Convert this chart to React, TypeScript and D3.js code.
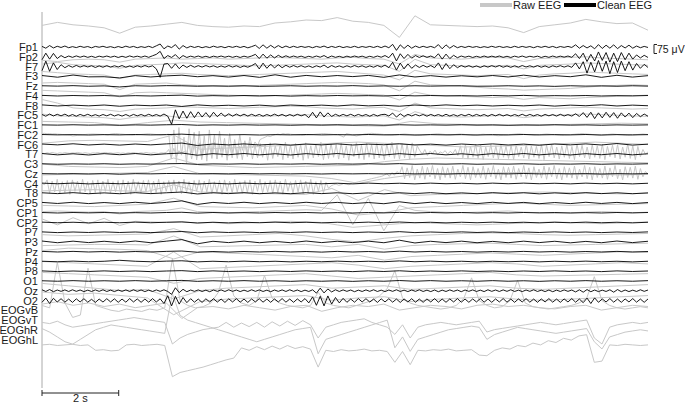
import * as d3 from "d3";

// channel montage, top to bottom
const channels = [
  "Fp1", "Fp2", "F7", "F3", "Fz", "F4", "F8", "FC5", "FC1", "FC2", "FC6",
  "T7", "C3", "Cz", "C4", "T8", "CP5", "CP1", "CP2", "P7", "P3", "Pz",
  "P4", "P8", "O1", "Oz", "O2", "EOGvB", "EOGvT", "EOGhR", "EOGhL",
];

const duration = 15.8; // seconds shown
const scaleSeconds = 2;
const scaleMicroVolts = 75;

// clean EEG (µV), evenly sampled across the window
const cleanFp1 = [5,-10,12,-8,6,-4,8,-6,3,-5,6,-3,4,-7,5,-2,6,-4,3,-6,4,-5,7,-3,5,-6,3,-4,6,-5,10,25,-15,8,-5,20,-18,12,-8,6,-4,5,-6,3,-5,7,-3,4,-6,5,-3,6,-4,5,-7,3,15,-12,18,-10,14,-8,12,-6,8,-5,6,-4,5,-3,4,-6,5,-3,8,-6,5,-4,6,-5,3,-4,6,-5,4,-3,5,-4,6,-5,8,-6,22,-28,18,-12,15,-10,8,-5,6,-4,5,-6,20,-15,18,-10,12,-6,5,-4,6,-3,4,-5,3,-4,6,-3,5,-4,3,-5,6,-4,5,-3,4,-6,5,-3,6,-4,5,-6,4,-3,5,-4,18,-10,12,-8,10,-15,20,-12,15,-10,18,-14,12,-8,15,-10,8,-6,5,-4];
const cleanFp2 = [-25,30,-20,28,-15,10,-8,6,-5,7,-4,6,-5,4,-6,5,-3,6,-4,5,-6,4,-5,7,-3,5,-4,6,-5,8,20,45,-15,10,-6,18,-15,10,-6,5,-4,6,-5,4,-6,5,-3,6,-4,5,-5,4,-6,5,-4,6,20,-15,22,-12,15,-10,12,-6,8,-5,6,-4,5,-6,4,-5,6,-4,10,-8,6,-5,4,-6,5,-4,6,-3,5,-6,4,-5,6,-4,10,-8,30,-35,25,-15,20,-12,10,-6,8,-5,6,-8,25,-20,22,-15,12,-8,6,-4,5,-6,4,-5,6,-4,5,-3,6,-5,4,-6,5,-4,6,-5,4,-3,5,-6,4,-5,6,-4,5,-3,6,-5,25,-15,30,-40,20,-35,40,-30,35,-45,30,-40,35,-25,30,-20,15,-10,12,-6];
const cleanF7 = [-35,45,-40,30,-25,15,-10,8,-6,9,-5,7,-4,6,-8,5,-6,7,-5,6,-4,8,-6,5,-7,6,-5,8,-4,6,-20,-90,20,25,-15,22,-18,12,-8,10,-6,7,-5,8,-4,6,-7,5,-6,8,-5,6,-8,5,-6,7,25,-20,28,-15,20,-12,15,-10,10,-6,8,-5,7,-6,5,-8,6,-5,12,-10,8,-6,5,-7,6,-5,8,-4,6,-7,5,-6,8,-5,12,-10,35,-30,28,-20,22,-15,12,-8,10,-6,8,-10,30,-25,25,-18,15,-10,8,-5,7,-6,5,-8,6,-5,7,-4,8,-6,5,-7,6,-5,8,-4,6,-5,7,-6,5,-8,6,-4,7,-5,6,-7,30,-20,40,-55,35,-45,50,-40,45,-60,40,-50,45,-35,40,-30,25,-15,18,-8];
const cleanF3 = [6,-8,10,-5,-4,-14,5,-6,3,9,-4,5,-7,6,-9,12,-8,7,-4,6,-3,7,-9,11,-6,5,-7,4,-5,6,-6,9,-6,5,-4,12,-9,8,-7,5];
const cleanFz = [2,-1,3,-2,1,-8,2,-1,3,2,-2,1,-1,2,-3,-1,2,-2,1,-1,3,-2,1,-2,2,-1,1,2,-2,-1,2,-2,1,-3,2,-1,1,-2,2,-1];
const cleanF4 = [3,-2,2,-1,2,-3,1,-2,2,5,-3,1,-2,2,-1,2,-3,1,-2,2,-1,1,-2,3,-1,2,-1,1,-2,2,-1,3,-2,1,-1,2,-2,1,-1,2];
const cleanF8 = [5,-4,3,-3,4,-6,3,-2,4,-8,5,-3,2,-4,3,-5,4,-2,3,-4,5,-3,2,-6,4,-3,5,-2,3,-4,2,-3,4,-5,3,-2,6,-4,3,-2];
const cleanFC5 = [6,-8,10,-6,8,-5,9,-7,6,-8,7,-5,8,-6,5,-7,6,-5,8,-6,5,-7,6,-8,7,-5,6,-6,8,-5,6,-7,10,-8,-75,45,-30,35,-25,30,-20,28,-15,22,-18,25,-12,18,-10,12,-8,10,-6,9,-7,8,-5,7,-8,6,-6,9,-5,7,-8,6,-7,8,-5,6,-20,25,-22,28,-15,20,-10,8,-6,7,-5,8,-6,7,-5,6,-8,7,-6,5,8,-6,18,-15,12,-10,8,-6,7,-5,6,-8,7,-5,6,-7,8,-6,5,-7,6,-5,8,-6,7,-5,6,-8,7,-5,8,-6,5,-7,6,-5,8,-6,7,-5,6,-8,7,-5,6,-7,8,-6,5,-7,12,-10,22,-18,25,-28,20,-22,25,-18,22,-25,20,-15,18,-20,15,-12,10,-8];
const cleanFC1 = [1,-1,2,-1,1,-2,1,-1,2,4,-2,1,-1,2,-1,1,-2,1,-1,2,-1,1,-2,2,-1,1,-1,2,-1,1,-2,1,-1,2,-1,1,-2,1,-1,1];
const cleanFC2 = [2,-1,1,-2,1,-1,2,-1,1,5,-2,1,-1,1,-2,1,-1,2,-1,1,-1,2,-1,1,-2,1,-1,1,-2,1,-1,2,-1,1,-1,2,-2,1,-1,1];
const cleanFC6 = [4,-3,6,-4,3,-5,4,-3,5,12,-8,4,-3,5,-4,3,-5,4,-3,5,-4,3,-2,6,-4,3,-5,4,-3,5,-4,3,-6,4,-3,5,-4,8,-5,3];
const cleanT7 = [6,-5,4,-6,5,-4,6,-5,4,10,-8,5,-4,6,-5,4,-6,5,-4,6,-5,4,-6,5,-4,6,-5,4,-6,5,-4,6,-5,4,-6,5,-4,6,-5,4];
const cleanC3 = [2,-2,1,-1,2,-2,1,-1,2,4,-3,1,-1,2,-2,1,-1,2,-2,1,-1,2,-1,3,-2,1,-1,2,-2,1,-1,2,-2,1,-1,2,-2,1,-1,2];
const cleanCz = [1,-1,1,-2,1,-4,1,-1,2,2,-1,1,-1,2,-1,1,-1,1,-2,1,-1,1,-1,2,-1,1,-2,1,-1,1,-1,2,-1,1,-1,1,-2,1,-1,1];
const cleanC4 = [3,-2,3,-3,2,-2,3,-2,2,6,-4,2,-3,3,-2,2,-3,3,-2,2,-3,3,-2,2,-3,3,-2,2,-3,3,-2,3,-2,2,-3,3,-2,2,-3,2];
const cleanT8 = [4,-3,5,-4,3,-4,5,-3,4,10,-6,4,-3,5,-4,3,-4,5,-3,4,-4,3,-5,4,-3,5,-4,3,-4,5,-3,4,-5,3,-4,5,-3,4,-4,3];
const cleanCP5 = [5,-4,6,-5,4,-5,6,-4,5,18,-12,5,-4,6,-5,4,-5,6,-4,5,-5,4,-6,10,-5,6,-5,4,-5,6,-4,5,-6,4,-5,6,-4,5,-5,4];
const cleanCP1 = [2,-2,2,-1,2,-2,1,-2,2,4,-3,2,-2,1,-2,2,-1,2,-2,1,-2,2,-1,3,-2,2,-1,2,-2,1,-2,2,-1,2,-2,1,-2,2,-1,2];
const cleanCP2 = [3,-2,2,-3,2,-2,3,-2,2,5,-4,2,-3,2,-2,3,-2,2,-3,2,-2,3,-2,4,-2,2,-3,2,-2,3,-2,2,-3,2,-2,3,-2,2,-3,2];
const cleanP7 = [3,-3,2,-2,3,-2,2,-3,2,6,-4,3,-2,2,-3,2,-2,3,-2,2,-3,2,-2,5,-3,2,-2,3,-2,2,-3,2,-2,3,-2,2,-3,2,-2,3];
const cleanP3 = [8,-6,7,-5,6,-5,8,-6,7,20,-15,6,-5,7,-6,5,-6,8,-5,6,-5,7,-6,15,-8,6,-5,7,-6,5,-6,7,-5,6,-7,5,-6,8,-5,6];
const cleanPz = [3,-2,3,-2,2,-3,2,-2,3,6,-4,2,-3,2,-2,3,-2,2,-3,3,-2,2,-3,5,-2,3,-2,2,-3,2,-2,3,-2,2,-3,2,-2,3,-2,2];
const cleanP4 = [2,-2,3,-2,2,10,2,-2,3,6,-3,2,-2,3,-2,2,-3,2,-2,3,-2,2,-2,5,-2,3,-2,2,-3,2,-2,2,-3,2,-2,3,-2,2,-3,2];
const cleanP8 = [3,-3,2,-2,3,-2,2,-3,2,5,-3,3,-2,2,-3,2,-2,3,-2,2,-3,3,-2,4,-3,2,-2,3,-2,2,-3,2,-2,3,-2,2,-3,3,-2,2];
const cleanO1 = [2,-2,3,-2,2,-2,3,-2,2,5,-3,2,-2,3,-2,2,-3,2,-2,2,-3,2,-2,4,-2,3,-2,2,-2,3,-2,2,-3,2,-2,3,-2,2,-2,3];
const cleanOz = [8,-6,10,-8,6,-5,7,-6,8,-5,6,-7,5,-6,7,-5,8,-6,5,-7,6,-5,7,-6,8,-5,6,-7,5,-6,7,-5,8,-6,-30,25,-15,12,-8,6,-5,7,-6,5,-8,6,-5,7,-6,8,-5,6,-7,5,-6,8,-5,7,-6,5,-8,6,-5,7,-6,8,-5,6,-7,5,-6,8,-20,22,-18,15,-10,8,-6,7,-5,6,-8,5,-6,7,-5,8,-6,5,-7,6,-5,8,-6,5,-7,6,-5,8,-6,5,-7,6,-8,5,-6,7,-5,6,-8,6,-5,7,-6,5,-7,8,-5,6,-6,7,-5,8,-6,5,-7,6,-5,8,-6,5,-7,6,-8,5,-6,7,-5,6,-10,8,-12,10,-8,6,-7,5,-6,8,-12,10,-8,6,-7,5,-6,8,-5,6];
const cleanO2 = [-15,20,-25,18,-12,15,-14,12,-16,14,-12,15,-14,10,-16,12,-13,15,-12,14,-15,12,-14,16,-12,13,-15,12,-14,16,-12,14,-25,40,-45,35,-30,25,-18,15,-14,12,-16,14,-12,15,-13,12,-16,14,-12,15,-14,12,-16,13,-12,15,-14,12,-15,13,-12,16,-14,12,-15,13,-12,16,-20,30,-40,35,-45,38,-30,25,-20,18,-15,12,-14,16,-12,15,-13,12,-16,14,-12,15,-14,12,-16,13,-12,15,-14,12,-15,13,-12,16,-14,12,-15,13,-12,16,-14,12,-15,13,-12,16,-14,12,-15,13,-12,16,-14,12,-15,13,-12,16,-14,12,-15,13,-12,16,-14,12,-15,13,-12,16,-14,12,-18,20,-25,22,-15,13,-12,16,-14,12,-15,13,-12,16,-14,12,-15,13];

// raw EEG (µV, relative to each channel's baseline)
const rawFp1 = [180,205,185,175,160,115,165,175,190,205,180,170,165,175,170,200,210,225,220,245,215,205,180,80,260,185,180,175,170,175,160,120,170,185,200,230,210,195,200,140];
const rawFp2 = [-30,-40,-25,-20,-25,-45,-20,-15,-10,-20,-15,-10,-20,-15,-10,-5,-10,-15,-20,-10,-5,-15,-20,-60,20,-10,-15,-20,-10,-5,-10,-40,-15,-10,-5,0,-10,-15,-20,-25];
const rawF7 = [20,35,15,10,5,-15,10,15,20,30,25,20,15,10,5,10,15,20,25,30,20,15,10,-40,60,15,10,5,0,5,10,-20,10,15,20,30,25,20,15,10];
const rawF3 = [40,30,20,15,10,-20,10,15,20,25,15,10,5,10,15,20,25,30,35,40,30,20,10,-30,50,20,15,10,5,10,15,-20,10,20,25,35,30,25,20,15];
const rawFz = [25,30,25,20,15,-30,15,20,25,10,5,0,-5,0,5,10,15,20,25,30,25,20,10,-40,40,10,5,0,-10,-20,-25,-35,-30,-25,-20,-10,0,5,10,5];
const rawF4 = [45,40,35,30,25,-10,25,30,25,20,15,10,5,0,-5,0,5,10,15,20,15,10,5,-35,30,5,0,-5,-10,-15,-10,-30,-15,-20,-25,-15,-10,-5,0,5];
const rawF8 = [50,20,-20,-30,-35,-50,-30,-25,-20,-10,-15,-20,-25,-20,-15,-10,-5,-10,-20,-25,-30,-20,-15,-50,20,-20,-25,-30,-35,-30,-25,-45,-30,-25,-20,-15,-20,-25,-30,-25];
const rawFC5 = [10,-5,-10,-15,-20,-35,-15,-10,-5,-20,-10,-5,0,-5,-10,-5,0,5,-5,-10,-15,-10,-5,-40,30,-5,-10,-15,-10,-5,0,-20,-5,0,5,10,5,0,-5,-10];
const rawFC1 = [30,25,20,-5,20,40,25,20,15,10,5,0,-5,-10,30,10,5,0,-5,0,5,10,15,10];
const rawFC2 = [10,12,8,10,6,8,5,4,2,0,-2,-4,-10,-8,-5,-2,0,2,4,5,6,5,4,3,2,0,-2,5,8,10,8,6,4,2,0,-2,-4,-2,0,2,4,6,8,6,4,2,0,-2,0,2,4,-200,40,-230,60,-170,-20,-240,50,-150,20,-210,30,-180,-10,-220,40,-160,0,-200,30,-140,-30,-190,10,-150,-40,-170,0,-130,-50,-150,-20,-110,-60,-90,-40,-30,-20,-10,-15,-5,0,5,0,10,5,8,4,2,0,-2,-4,-6,-4,-2,0,2,4,6,8,10,8,6,4,2,0,-2,-10,-20,10,5,0,-5,-10,-5,0,5,8,10,12,10,8,6,4,2,0,-2,-4,-2,0,2,4,6,4,2,0,-2,-4,-6,-4,-2,0,2,4,6,8,6,4,2,0,-2,0,2,4,6,4,2,0,-2,-4,-2,0,2,4,2,0,-2,-4,-6,-8,-6,-4,-2,0,2,4,6,8,6,4,2,0,-2,-4,-2,0,2,4,6,4,2,0,-2,-4,-6,-4,-2,0,2,4,6,8,10,8,6,4,2,0,-2,-4,-2,0,2,4,6,4,2,0,-2,-4,-6,-4,-2,0,2,4,6,4,2];
const rawFC6 = [10,30,35,30,25,80,-40,-30,-20,-10,0,10,20,10,0,-10,-20,-15,-10,0,10,20,10,0];
const rawT7 = [10,5,12,8,15,10,6,12,8,14,10,7,12,9,15,11,8,13,9,6,12,10,14,8,11,15,9,12,7,10,13,8,11,6,12,9,14,10,7,12,9,15,11,8,13,9,6,12,10,14,40,-30,50,-20,30,0,25,5,90,-40,80,-30,95,-45,70,-20,85,-35,100,-40,75,-25,90,-50,80,-30,95,-35,70,-45,85,-20,100,-40,75,-30,90,-25,80,-50,95,-35,70,-20,85,-45,100,-30,75,-40,90,-25,80,-50,95,-35,70,-30,85,-20,100,-45,75,-35,90,-25,80,-40,95,-30,70,-50,85,-20,100,-35,75,-45,90,-25,80,-40,95,-30,70,-45,85,-20,100,-35,75,-40,90,-30,80,-45,95,-25,70,30,0,40,-10,25,5,35,-5,20,10,30,0,25,5,40,-10,70,-30,80,-40,65,-25,85,-35,75,-45,60,-20,80,-30,70,-40,85,-25,65,-35,75,-45,80,-20,60,-30,85,-40,70,-25,65,-35,80,-45,75,-20,85,-30,60,-40,70,-25,80,-35,65,-45,85,-20,75,-30,60,-40,80,-25,70,-35,85,-45,65,-20,75,-30,80,-40,60,-25,85,-35,70,-45,65,-20,40,0,20];
const rawC3 = [0,-20,-25,-30,-20,50,-10,-20,-30,-25,-20,-15,-10,20,40,50,45,40,35,30,25,20,15,10];
const rawCz = [-10,-5,0,5,10,60,0,-5,-10,-15,-20,-40,-80,-40,-10,-5,0,5,10,5,0,-5,-10,-5];
const rawC4 = [0,-10,30,-80,20,-70,35,-85,15,-75,25,-90,30,-65,20,-80,35,-70,15,-85,25,-75,30,-90,20,-65,35,-80,15,-70,25,-85,30,-75,20,-90,35,-65,15,-80,25,-70,30,-85,20,-75,35,-90,15,-65,25,-80,30,-70,20,-85,35,-75,15,-90,25,-65,30,-80,20,-70,35,-85,15,-75,25,-90,30,-65,20,-80,35,-70,15,-85,25,-75,30,-90,20,-65,35,-80,15,-70,25,-85,30,-75,20,-90,35,-65,15,-80,25,-70,30,-85,20,-75,35,-90,15,-65,25,-80,10,-40,-20,-10,-5,-15,-10,0,-5,-10,0,5,10,15,20,25,30,35,40,45,50,55,60,70,80,60,90,70,100,80,140,40,130,50,150,30,120,45,145,35,135,55,150,40,125,30,140,50,130,45,145,35,120,55,150,40,135,30,140,50,125,45,145,35,130,55,150,40,120,30,140,50,135,45,145,35,125,55,150,40,130,30,140,50,120,45,145,35,135,55,150,40,125,30,140,50,130,45,145,35,120,55,150,40,135,30,140,50,125,45,145,35,130,55,150,40,120,30,140,50,135,45,145,35,125,55,100,80];
const rawT8 = [20,25,30,20,15,70,10,5,0,-5,-10,40,-60,30,-20,-10,-5,0,5,10,5,0,-5,0];
const rawCP5 = [-20,-25,-30,-20,-10,40,-30,-35,-40,-30,-20,-50,-100,-80,-40,-30,-20,-10,0,-10,-20,-15,-10,-5];
const rawCP1 = [10,15,10,5,10,-10,10,15,20,40,10,5,0,5,10,15,20,25,20,150,-100,120,-150,60,20,10,5,0,5,10,15,5,0,-5,0,5,10,5,0,5];
const rawCP2 = [30,-20,40,-10,35,-25,10,5,0,5,-5,0,-10,-5,0,5,10,5,0,-20,-40,-30,-20,-10,0,-5,-10,-15,-20,-15,-10,-5,0,5,0,-5,-10,-5,0,5];
const rawP7 = [-20,-30,-25,-20,-15,30,-40,-30,-20,-10,-30,-60,-80,-50,-30,-20,-10,-5,-10,-20,-25,-20,-15,-10];
const rawP3 = [-30,-25,-20,-20,-25,50,-40,-35,-30,-25,-20,-40,-20,-60,-30,-20,-15,-10,-20,-30,-25,-20,-15,-10];
const rawPz = [10,30,25,20,10,-60,0,-10,-20,-30,-40,-50,-30,-70,-40,-30,-20,-10,-20,-30,-20,-10,0,-5];
const rawP4 = [0,-10,-20,-30,-40,80,-60,-50,-40,-30,-20,-10,-30,-60,-40,-30,-20,-10,-20,-40,-30,-20,-10,-20];
const rawP8 = [-10,-20,-30,-40,-50,-100,-60,-50,-40,-30,-20,-40,-60,-50,-40,-30,-20,-10,-30,-40,-35,-30,-25,-20];
const rawO1 = [-20,-40,-60,-80,-70,-150,-80,-60,-50,-40,-30,-60,-50,-40,-70,-60,-50,-40,-60,-70,-60,-50,-40,-30];
const rawOz = [-10,-30,-20,-40,-60,-200,-90,-70,-60,-50,-40,-80,-60,-50,-90,-70,-60,-50,-70,-80,-70,-60,-50,-40];
const rawO2 = [-30,-10,-40,-20,-50,-30,-60,-40,-20,-150,-60,-50,-70,-40,-60,-80,-50,-40,-90,-60,-40,-50,-30,-80,-60,-40,-50,-70,-40,-30,-50,-40,-60,-70,-50,-40,-80,-60,-40,-50];
const rawEOGvB = [40,20,400,60,-60,-40,350,40,20,0,-10,10,0,-10,10,0,20,430,80,40,20,30,60,150,375,120,60,40,80,290,100,60,40,30,20,40,150,60,40,30,20,40,60,80,120,180,330,100,60,40,30,20,10,20,40,100,270,80,40,20,30,80,250,60,30,20,10,20,30,40,60,100,280,80,40,20,10,20,30,20];
const rawEOGvT = [-20,-30,-10,-40,-60,-50,-40,-30,-20,-10,0,10,20,10,0,-10,-20,-200,-150,-120,-100,-80,-70,-60,-20,-60,-25,-55,-20,-60,-15,-50,-10,-45,-5,-40,-150,-60,-40,-20,-10,0,10,-20,-40,-60,-120,-40,-150,-60,-40,-30,-20,-30,-40,-30,-20,-10,-100,-80,-70,-60,-50,-40,-30,-20,-30,-40,-30,-20,-10,0,-150,-200,-60,-40,-30,-20,-30,-20];
const rawEOGhR = [10,-20,-60,-100,-120,-80,-40,0,20,40,30,20,10,0,-10,-20,-30,300,120,80,60,40,20,0,-20,-40,-60,-80,-100,-80,-60,-40,-20,0,10,20,-200,-80,-60,-40,-20,0,20,40,60,80,-150,-60,-180,-80,-60,-40,-20,0,10,20,30,20,-80,-40,-20,0,20,10,0,-10,-20,-30,-20,-10,0,10,-100,-160,-60,-40,-20,-10,0,-10];
const rawEOGhL = [-45,-40,-50,-45,-40,-50,-45,-90,-85,-95,-90,-45,-40,-50,-45,-40,-50,-310,-275,-260,-245,-230,-210,-190,-170,-155,-70,-90,-60,-85,-55,-80,-50,-75,-60,-80,-230,-90,-100,-85,-95,-90,-80,-95,-90,-100,-190,-100,-210,-90,-95,-85,-90,-80,-95,-90,-85,-130,-135,-90,-70,-80,-50,-60,-30,-45,-10,-25,10,-5,30,40,-190,-180,-45,-50,-40,-45,-50,-45];

const cleanTable: [string, number[]][] = [
  ["Fp1", cleanFp1], ["Fp2", cleanFp2], ["F7", cleanF7], ["F3", cleanF3], ["Fz", cleanFz],
  ["F4", cleanF4], ["F8", cleanF8], ["FC5", cleanFC5], ["FC1", cleanFC1], ["FC2", cleanFC2],
  ["FC6", cleanFC6], ["T7", cleanT7], ["C3", cleanC3], ["Cz", cleanCz], ["C4", cleanC4],
  ["T8", cleanT8], ["CP5", cleanCP5], ["CP1", cleanCP1], ["CP2", cleanCP2], ["P7", cleanP7],
  ["P3", cleanP3], ["Pz", cleanPz], ["P4", cleanP4], ["P8", cleanP8], ["O1", cleanO1],
  ["Oz", cleanOz], ["O2", cleanO2],
];
const rawTable: [string, number[]][] = [
  ["Fp1", rawFp1], ["Fp2", rawFp2], ["F7", rawF7], ["F3", rawF3], ["Fz", rawFz],
  ["F4", rawF4], ["F8", rawF8], ["FC5", rawFC5], ["FC1", rawFC1], ["FC2", rawFC2],
  ["FC6", rawFC6], ["T7", rawT7], ["C3", rawC3], ["Cz", rawCz], ["C4", rawC4],
  ["T8", rawT8], ["CP5", rawCP5], ["CP1", rawCP1], ["CP2", rawCP2], ["P7", rawP7],
  ["P3", rawP3], ["Pz", rawPz], ["P4", rawP4], ["P8", rawP8], ["O1", rawO1],
  ["Oz", rawOz], ["O2", rawO2], ["EOGvB", rawEOGvB], ["EOGvT", rawEOGvT],
  ["EOGhR", rawEOGhR], ["EOGhL", rawEOGhL],
];

const W = 685;
const H = 404;
const font = "'Liberation Sans', Arial, sans-serif";

const x = d3.scaleLinear().domain([0, duration]).range([42, 648]);
const row = d3.scalePoint<string>().domain(channels).range([47, 339.5]);
const amp = d3.scaleLinear().domain([0, scaleMicroVolts]).range([0, 9]);

function tracePath(ch: string, vals: number[]) {
  const t = d3.scaleLinear().domain([0, vals.length - 1]).range([0, duration]);
  const base = row(ch) ?? 0;
  return d3
    .line<number>()
    .x((_, i) => x(t(i)))
    .y((v) => base - amp(v))(vals) ?? "";
}

export default function App() {
  const barY = 393;
  const mvX = 654;
  const mvTop = 44.5;
  return (
    <svg
      width={W}
      height={H}
      style={{ position: "absolute", left: 0, top: 0, background: "#fff" }}
      fontFamily={font}
    >
      {/* left edge */}
      <line x1={x(0)} x2={x(0)} y1={12} y2={388} stroke="#aaa" strokeWidth={1} />

      {/* raw traces behind */}
      <g fill="none" stroke="#c8c8c8" strokeWidth={1} strokeLinejoin="round">
        {rawTable.map(([ch, vals]) => (
          <path key={ch} d={tracePath(ch, vals)} />
        ))}
      </g>
      {/* cleaned traces */}
      <g fill="none" stroke="#000" strokeWidth={0.9} strokeLinejoin="round">
        {cleanTable.map(([ch, vals]) => (
          <path key={ch} d={tracePath(ch, vals)} />
        ))}
      </g>

      {/* channel labels */}
      <g fontSize={11} fill="#1a1a1a" textAnchor="end">
        {channels.map((ch) => (
          <text key={ch} x={38} y={(row(ch) ?? 0) + 4}>
            {ch}
          </text>
        ))}
      </g>

      {/* time scale bar */}
      <g stroke="#222" strokeWidth={1}>
        <line x1={x(0)} x2={x(scaleSeconds)} y1={barY} y2={barY} />
        <line x1={x(0)} x2={x(0)} y1={barY - 3} y2={barY + 3} />
        <line x1={x(scaleSeconds)} x2={x(scaleSeconds)} y1={barY - 3} y2={barY + 3} />
      </g>
      <text x={(x(0) + x(scaleSeconds)) / 2} y={402} fontSize={11} textAnchor="middle" fill="#1a1a1a">
        2 s
      </text>

      {/* amplitude scale bar */}
      <g stroke="#222" strokeWidth={1}>
        <line x1={mvX} x2={mvX} y1={mvTop} y2={mvTop + amp(scaleMicroVolts)} />
        <line x1={mvX} x2={mvX + 3} y1={mvTop} y2={mvTop} />
        <line x1={mvX} x2={mvX + 3} y1={mvTop + amp(scaleMicroVolts)} y2={mvTop + amp(scaleMicroVolts)} />
      </g>
      <text x={657} y={mvTop + 8.5} fontSize={10.5} fill="#1a1a1a">
        75 μV
      </text>

      {/* legend */}
      <rect x={480} y={3} width={32} height={4} fill="#c8c8c8" />
      <text x={513} y={9} fontSize={11} fill="#1a1a1a">Raw EEG</text>
      <rect x={564} y={3} width={32} height={4} fill="#000" />
      <text x={597} y={9} fontSize={11} fill="#1a1a1a">Clean EEG</text>
    </svg>
  );
}
